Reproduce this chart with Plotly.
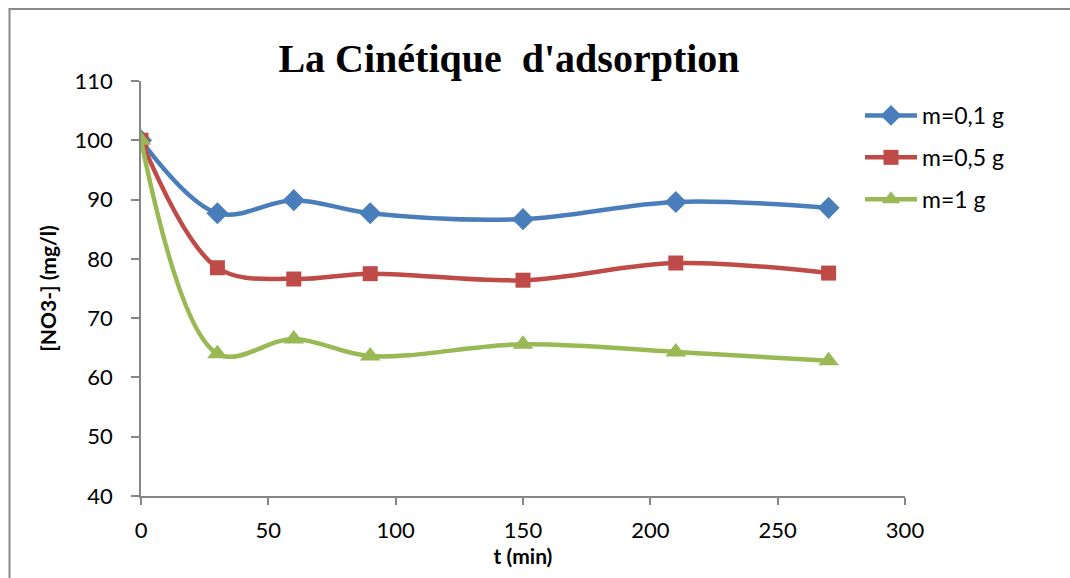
import plotly.graph_objects as go

t_min = [0, 30, 60, 90, 150, 210, 270]
m01 = [100, 87.7, 89.9, 87.7, 86.7, 89.6, 88.6]
m05 = [100, 78.5, 76.6, 77.5, 76.4, 79.3, 77.6]
m1 = [100, 64.0, 66.5, 63.6, 65.6, 64.3, 62.8]
names = ["m=0,1 g", "m=0,5 g", "m=1 g"]
colors = ["#4A7EBB", "#BE4B48", "#98B954"]
symbols = ["diamond", "square", "triangle-up"]
msizes = [17, 15, 18]

W, H = 1070, 578
L, R, T, B = 141, 165, 81, 82
pw, ph = W - L - R, H - T - B

fig = go.Figure()
for ys, n, c, s, ms in zip([m01, m05, m1], names, colors, symbols, msizes):
    fig.add_trace(go.Scatter(
        x=t_min, y=ys, name=n, mode="lines+markers",
        line=dict(color=c, width=4.5, shape="spline", smoothing=1.0),
        marker=dict(symbol=s, size=ms, color=c),
        legendgroup=n,
    ))

fam = "Lato, Open Sans, sans-serif"
axis_font = dict(family=fam, size=22, color="#000")
title_font = dict(family=fam, size=21, color="#000", weight="bold")
fig.update_layout(
    width=W, height=H,
    margin=dict(l=L, r=R, t=T, b=B),
    paper_bgcolor="white", plot_bgcolor="white",
    title=dict(text="<b>La Cinétique  d'adsorption</b>",
               font=dict(family="Liberation Serif, serif", size=40, color="#000"),
               x=509 / W, xanchor="center", y=1 - 58 / H, yanchor="middle"),
    xaxis=dict(range=[0, 300], tickvals=[0, 50, 100, 150, 200, 250, 300],
               showgrid=False, zeroline=False, showline=True, linecolor="#868686", linewidth=1.5,
               ticks="outside", ticklen=7, tickcolor="#868686", tickwidth=1.5,
               ticklabelstandoff=7,
               tickfont=axis_font, title=dict(text="<b>t (min)</b>", font=title_font, standoff=4)),
    yaxis=dict(range=[40, 110], tickvals=[40, 50, 60, 70, 80, 90, 100, 110],
               showgrid=False, zeroline=False, showline=True, linecolor="#868686", linewidth=1.5,
               ticks="outside", ticklen=8, tickcolor="#868686", tickwidth=1.5,
               ticklabelstandoff=14,
               tickfont=axis_font, title=dict(text="<b>[NO3-] (mg/l)</b>", font=title_font, standoff=12)),
    legend=dict(x=(860 - L) / pw, y=(T + ph - 94) / ph, xanchor="left", yanchor="top",
                font=dict(family=fam, size=23, color="#000"),
                bgcolor="rgba(0,0,0,0)", tracegroupgap=9, itemwidth=52),
    showlegend=True,
)
fig.add_shape(type="rect", xref="paper", yref="paper",
              x0=(9.5 - L) / pw, x1=(W + 20 - L) / pw,
              y0=(T + ph - H - 20) / ph, y1=(T + ph - 9) / ph,
              line=dict(color="#888888", width=2), fillcolor="rgba(0,0,0,0)", layer="below")
fig.write_html("out.html")
